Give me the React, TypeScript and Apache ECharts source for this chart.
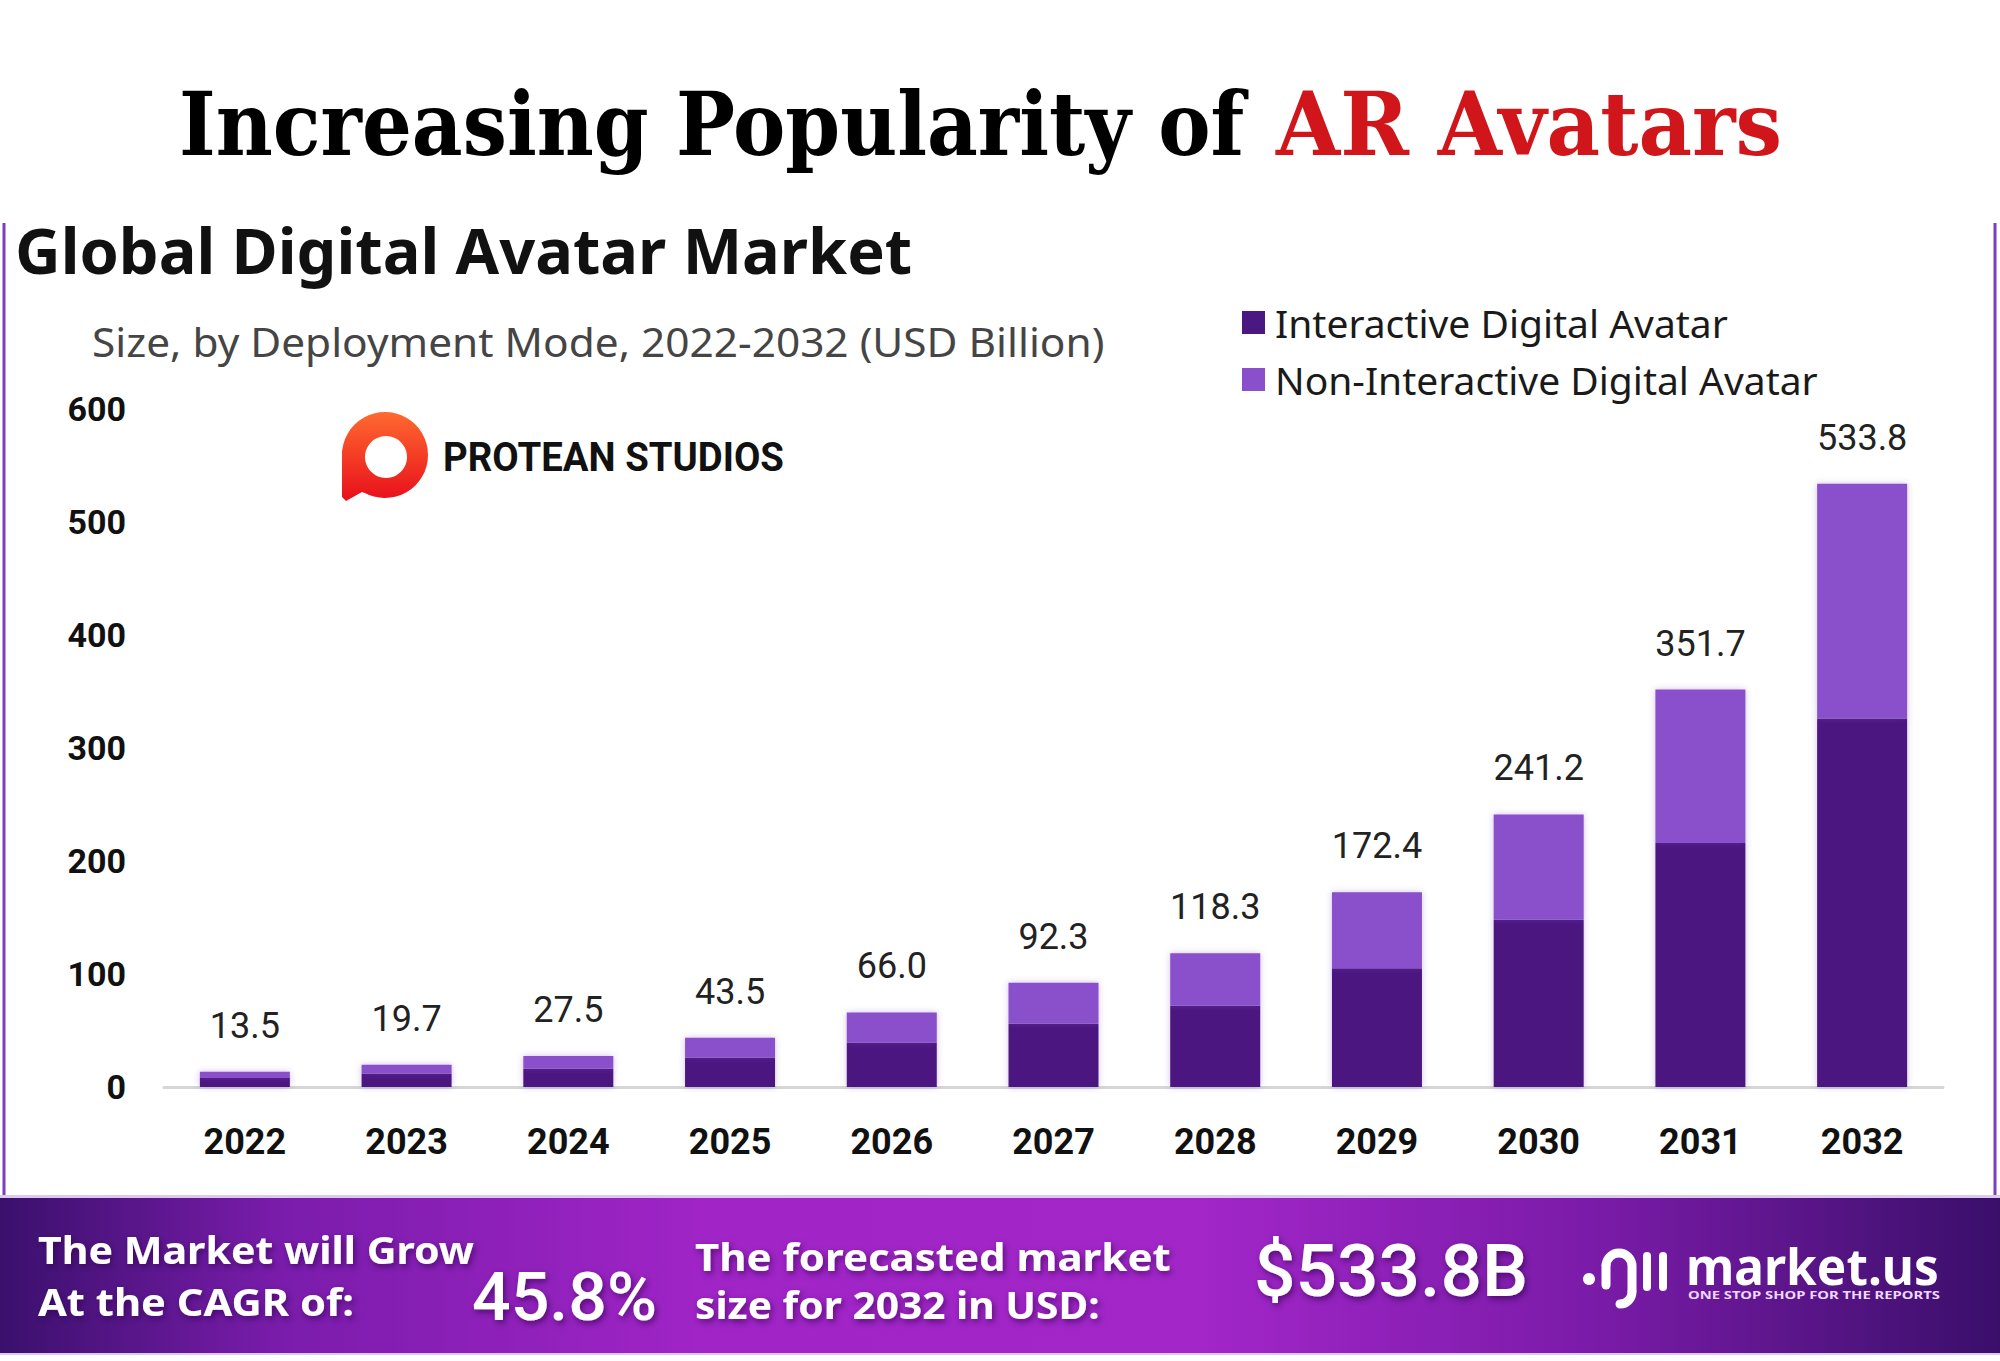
import React, { useEffect, useRef } from 'react';
import * as echarts from 'echarts';

const years = ['2022', '2023', '2024', '2025', '2026', '2027', '2028', '2029', '2030', '2031', '2032'];
const interactive = [8.0, 11.9, 16.1, 26.2, 39.3, 55.9, 72.0, 105.0, 147.9, 216.0, 326.0];
const nonInteractive = [5.5, 7.8, 11.4, 17.3, 26.7, 36.4, 46.3, 67.4, 93.3, 135.7, 207.8];
const totalLabels = ['13.5', '19.7', '27.5', '43.5', '66.0', '92.3', '118.3', '172.4', '241.2', '351.7', '533.8'];
const seriesNames = ['Interactive Digital Avatar', 'Non-Interactive Digital Avatar'];
const yMin = 0;
const yMax = 600;
const yStep = 100;

function measure(text: string, font: string): number {
  const c = document.createElement('canvas').getContext('2d');
  if (!c) return 1;
  c.font = font;
  return c.measureText(text).width || 1;
}

function fitText(
  text: string,
  x: number,
  y: number,
  size: number,
  weight: string,
  family: string,
  width: number,
  fill: string,
  extra: any = {}
) {
  const w = measure(text, `${weight} ${size}px ${family}`);
  return {
    type: 'text',
    x,
    y,
    scaleX: width / w,
    z: 10,
    style: {
      text,
      fontSize: size,
      fontWeight: weight,
      fontFamily: family,
      fill,
      align: 'left',
      verticalAlign: 'middle',
      ...extra,
    },
  };
}

export default function App() {
  const ref = useRef<HTMLDivElement>(null);

  useEffect(() => {
    document.body.style.margin = '0';
    if (!ref.current) return;
    const chart = echarts.init(ref.current, undefined, { renderer: 'svg' });

    const serif = '"DejaVu Serif"';
    const sans = '"Noto Sans"';
    const roboto = 'Roboto';
    const shadow = {
      textShadowColor: 'rgba(50,0,80,0.65)',
      textShadowBlur: 6,
      textShadowOffsetX: 2,
      textShadowOffsetY: 3,
    };
    const logoGrad = new echarts.graphic.LinearGradient(
      0, 412, 0, 500,
      [
        { offset: 0, color: '#ff6a30' },
        { offset: 1, color: '#e8101c' },
      ],
      true
    );

    const graphic: any[] = [
      fitText('Increasing Popularity of', 179, 124, 88, 'bold', serif, 1065, '#000000'),
      fitText('AR Avatars', 1276, 124, 88, 'bold', serif, 506, '#d0161b'),
      fitText('Global Digital Avatar Market', 15, 250, 62, 'bold', sans, 897, '#111111'),
      fitText('Size, by Deployment Mode, 2022-2032 (USD Billion)', 92, 341, 40, 'normal', sans, 1013, '#454545'),
      // frame lines
      { type: 'line', shape: { x1: 4, y1: 223, x2: 4, y2: 1196 }, style: { stroke: '#7b3fbf', lineWidth: 3 } },
      { type: 'line', shape: { x1: 1995, y1: 223, x2: 1995, y2: 1196 }, style: { stroke: '#7b3fbf', lineWidth: 3 } },
      // protean logo
      { type: 'circle', shape: { cx: 385, cy: 455, r: 43 }, style: { fill: logoGrad }, z: 10 },
      {
        type: 'polygon',
        shape: { points: [[342, 450], [342, 497], [346, 501], [362, 492], [385, 498], [385, 455]] },
        style: { fill: logoGrad },
        z: 10,
      },
      { type: 'circle', shape: { cx: 386, cy: 457, r: 21 }, style: { fill: '#ffffff' }, z: 11 },
      fitText('PROTEAN STUDIOS', 443, 458, 40, 'bold', roboto, 341, '#111111'),
      // banner
      { type: 'rect', shape: { x: 0, y: 1195, width: 2000, height: 3 }, style: { fill: '#dcc8f0' } },
      {
        type: 'rect',
        shape: { x: 0, y: 1198, width: 2000, height: 155 },
        style: {
          fill: new echarts.graphic.LinearGradient(0, 0, 1, 0, [
            { offset: 0, color: '#3a106c' },
            { offset: 0.14, color: '#7a1cab' },
            { offset: 0.35, color: '#a024c6' },
            { offset: 0.6, color: '#a226c8' },
            { offset: 0.8, color: '#7a1ba8' },
            { offset: 1, color: '#3a0f6a' },
          ]),
        },
      },
      { type: 'rect', shape: { x: 0, y: 1353, width: 2000, height: 2 }, style: { fill: '#dcc8f0' } },
      fitText('The Market will Grow', 38, 1250, 38, 'bold', sans, 436, '#ffffff', shadow),
      fitText('At the CAGR of:', 38, 1301, 38, 'bold', sans, 316, '#ffffff', shadow),
      fitText('45.8%', 472, 1297, 66, '500', roboto, 185, '#ffffff', shadow),
      fitText('The forecasted market', 695, 1256, 38, 'bold', sans, 476, '#ffffff', shadow),
      fitText('size for 2032 in USD:', 695, 1305, 38, 'bold', sans, 405, '#ffffff', shadow),
      fitText('$533.8B', 1254, 1272, 72, '500', roboto, 274, '#ffffff', shadow),
      // market.us icon
      { type: 'circle', shape: { cx: 1589, cy: 1279, r: 6 }, style: { fill: '#ffffff' }, z: 10 },
      {
        type: 'arc',
        shape: { cx: 1619, cy: 1266, r: 13, startAngle: Math.PI, endAngle: Math.PI * 2 },
        style: { stroke: '#ffffff', lineWidth: 9, fill: 'none' },
        z: 10,
      },
      { type: 'line', shape: { x1: 1606, y1: 1266, x2: 1606, y2: 1285 }, style: { stroke: '#ffffff', lineWidth: 9, lineCap: 'round' }, z: 10 },
      { type: 'line', shape: { x1: 1632, y1: 1266, x2: 1632, y2: 1292 }, style: { stroke: '#ffffff', lineWidth: 9 }, z: 10 },
      {
        type: 'arc',
        shape: { cx: 1620, cy: 1292, r: 12, startAngle: 0, endAngle: Math.PI / 2 },
        style: { stroke: '#ffffff', lineWidth: 9, fill: 'none', lineCap: 'round' },
        z: 10,
      },
      { type: 'line', shape: { x1: 1647, y1: 1256, x2: 1647, y2: 1287 }, style: { stroke: '#ffffff', lineWidth: 8, lineCap: 'round' }, z: 10 },
      { type: 'line', shape: { x1: 1663, y1: 1256, x2: 1663, y2: 1287 }, style: { stroke: '#ffffff', lineWidth: 8, lineCap: 'round' }, z: 10 },
      fitText('market.us', 1686, 1266, 50, 'bold', sans, 253, '#ffffff'),
      fitText('ONE STOP SHOP FOR THE REPORTS', 1688, 1295, 10, 'bold', sans, 252, '#f0d8ff'),
    ];

    chart.setOption({
      animation: false,
      backgroundColor: '#ffffff',
      textStyle: { fontFamily: roboto },
      grid: { left: 164, right: 57, top: 409, bottom: 274, containLabel: false },
      legend: {
        orient: 'vertical',
        left: 1237,
        top: 298,
        itemWidth: 23,
        itemHeight: 23,
        itemGap: 18,
        icon: 'rect',
        data: seriesNames,
        textStyle: {
          fontSize: 39,
          lineHeight: 38,
          fontFamily: sans,
          color: '#1a1a1a',
          padding: [0, 0, 0, 5],
        },
      },
      xAxis: {
        type: 'category',
        data: years,
        axisLine: { show: true, lineStyle: { color: '#d6d6d6', width: 3 } },
        axisTick: { show: false },
        axisLabel: { fontSize: 36, fontWeight: 'bold', color: '#111', margin: 37, fontFamily: roboto },
      },
      yAxis: {
        type: 'value',
        min: yMin,
        max: yMax,
        interval: yStep,
        axisLine: { show: false },
        axisTick: { show: false },
        splitLine: { show: false },
        axisLabel: { fontSize: 34, fontWeight: 'bold', color: '#111', margin: 38, fontFamily: roboto },
      },
      series: [
        {
          name: seriesNames[0],
          type: 'bar',
          stack: 'total',
          data: interactive,
          barWidth: 90,
          itemStyle: { color: '#4b1780', shadowColor: 'rgba(120,70,190,0.35)', shadowBlur: 6 },
        },
        {
          name: seriesNames[1],
          type: 'bar',
          stack: 'total',
          data: nonInteractive,
          barWidth: 90,
          itemStyle: { color: '#8a4fcb', shadowColor: 'rgba(120,70,190,0.35)', shadowBlur: 6 },
          label: {
            show: true,
            position: 'top',
            distance: 28,
            fontSize: 36,
            lineHeight: 36,
            color: '#222',
            fontFamily: roboto,
            formatter: (p: any) => totalLabels[p.dataIndex],
          },
        },
      ],
      graphic,
    });

    return () => chart.dispose();
  }, []);

  return <div ref={ref} style={{ position: 'fixed', left: 0, top: 0, width: 2000, height: 1361 }} />;
}
